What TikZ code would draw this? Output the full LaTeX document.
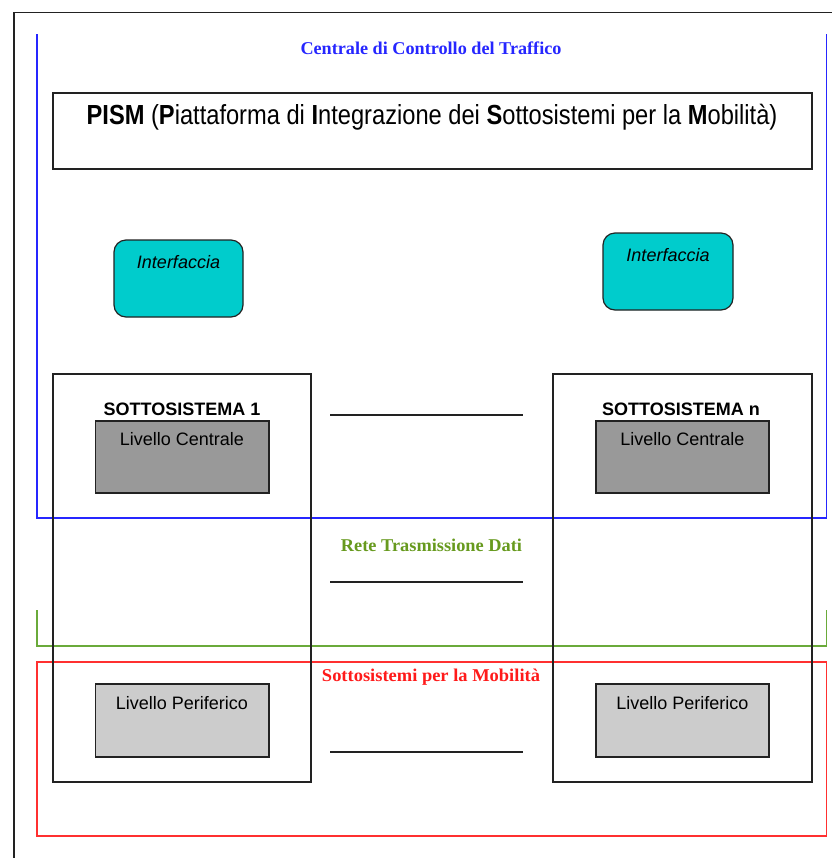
\documentclass[tikz,border=0pt]{standalone}
\usepackage{fontspec}
\setmainfont{Liberation Serif}
\setsansfont{Liberation Sans}
\usepackage{graphicx}
\definecolor{cyanbox}{HTML}{00CCCC}
\definecolor{darkgraybox}{HTML}{999999}
\definecolor{lightgraybox}{HTML}{CCCCCC}
\definecolor{frameblue}{HTML}{2626FF}
\definecolor{framegreen}{HTML}{6AAA3A}
\definecolor{textgreen}{HTML}{679A1E}
\definecolor{framered}{HTML}{FF3030}
\definecolor{textred}{HTML}{FF1A1A}
\definecolor{edge}{HTML}{222222}
\newcommand{\fitw}[2]{\resizebox{#1}{\height}{#2}}
\newcommand{\fitwh}[2]{\resizebox{#1}{1.15\height}{#2}}
\begin{document}
\begin{tikzpicture}[x=0.75pt,y=-0.75pt,
  every node/.style={inner sep=0pt,outer sep=0pt},
  frame/.style={draw=edge,line width=1.1pt},
  sysbox/.style={draw=edge,line width=1.1pt,anchor=north west},
  pismbox/.style={draw=edge,line width=1.1pt,anchor=north west},
  ifbox/.style={draw=edge,line width=0.9pt,fill=cyanbox,rounded corners=9pt,anchor=north west},
  lcbox/.style={draw=edge,line width=1.3pt,fill=darkgraybox,anchor=north west},
  lpbox/.style={draw=edge,line width=1.3pt,fill=lightgraybox,anchor=north west},
  hline/.style={draw=edge,line width=1.3pt},
  areatitle/.style={anchor=base,font=\fontsize{13.5}{16}\selectfont\bfseries},
  lbl/.style={anchor=base,font=\sffamily\fontsize{13.5}{16}\selectfont},
  syslbl/.style={anchor=base,font=\sffamily\bfseries\fontsize{13.5}{16}\selectfont},
  iflbl/.style={anchor=base,font=\sffamily\itshape\fontsize{13.5}{16}\selectfont}
]
\useasboundingbox (0,0) rectangle (832,858);
\fill[white] (0,0) rectangle (832,858);

% outer frame
\draw[frame] (832,12.5) -- (14,12.5) -- (14,858);

% area frames
\draw[frameblue,line width=1.1pt] (37,34) -- (37,518) -- (826.5,518) -- (826.5,34);
\draw[framegreen,line width=1.3pt] (37,610) -- (37,646) -- (826.5,646) -- (826.5,610);
\draw[framered,line width=1.1pt] (37,662) rectangle (826.5,836);

% subsystem boxes
\node[sysbox,minimum width=258*0.75pt,minimum height=408*0.75pt] (s1) at (53,374) {};
\node[sysbox,minimum width=259*0.75pt,minimum height=408*0.75pt] (sn) at (553,374) {};

% PISM
\node[pismbox,minimum width=759*0.75pt,minimum height=76*0.75pt] (pism) at (53,93) {};
\node[anchor=base,font=\sffamily\fontsize{18}{20}\selectfont] (pismtxt) at (432,124.5)
  {\fitwh{518pt}{\textbf{PISM} (\textbf{P}iattaforma di \textbf{I}ntegrazione dei \textbf{S}ottosistemi per la \textbf{M}obilità)}};

% Interfacce
\node[ifbox,minimum width=129*0.75pt,minimum height=77*0.75pt] (if1) at (114,240) {};
\node[ifbox,minimum width=130*0.75pt,minimum height=77*0.75pt] (ifn) at (603,233) {};
\node[iflbl] (if1txt) at (178.5,268) {Interfaccia};
\node[iflbl] (ifntxt) at (668,261) {Interfaccia};

% subsystem labels
\node[syslbl] (s1txt) at (182,415) {SOTTOSISTEMA 1};
\node[syslbl] (sntxt) at (681,415) {SOTTOSISTEMA n};

% Livello Centrale
\node[lcbox,minimum width=173.5*0.75pt,minimum height=72*0.75pt] (lc1) at (95.5,421) {};
\node[lcbox,minimum width=173*0.75pt,minimum height=72*0.75pt] (lcn) at (596,421) {};
\node[lbl] (lc1txt) at (182,445) {Livello Centrale};
\node[lbl] (lcntxt) at (682.5,445) {Livello Centrale};

% Livello Periferico
\node[lpbox,minimum width=173.5*0.75pt,minimum height=73*0.75pt] (lp1) at (95.5,684) {};
\node[lpbox,minimum width=173*0.75pt,minimum height=73*0.75pt] (lpn) at (596,684) {};
\node[lbl] (lp1txt) at (182,709) {Livello Periferico};
\node[lbl] (lpntxt) at (682.5,709) {Livello Periferico};

% area titles
\node[areatitle,text=frameblue] (t1) at (431,54) {\fitw{195.75pt}{Centrale di Controllo del Traffico}};
\node[areatitle,text=textgreen] (t2) at (431.5,551) {\fitw{135.75pt}{Rete Trasmissione Dati}};
\node[areatitle,text=textred] (t3) at (431,681) {\fitw{163.5pt}{Sottosistemi per la Mobilità}};

% dashes between subsystems
\coordinate (a1) at (330,415); \coordinate (b1) at (523,415);
\coordinate (a2) at (330,582); \coordinate (b2) at (523,582);
\coordinate (a3) at (330,752); \coordinate (b3) at (523,752);
\draw[hline] (a1) -- (b1);
\draw[hline] (a2) -- (b2);
\draw[hline] (a3) -- (b3);
\end{tikzpicture}
\end{document}
